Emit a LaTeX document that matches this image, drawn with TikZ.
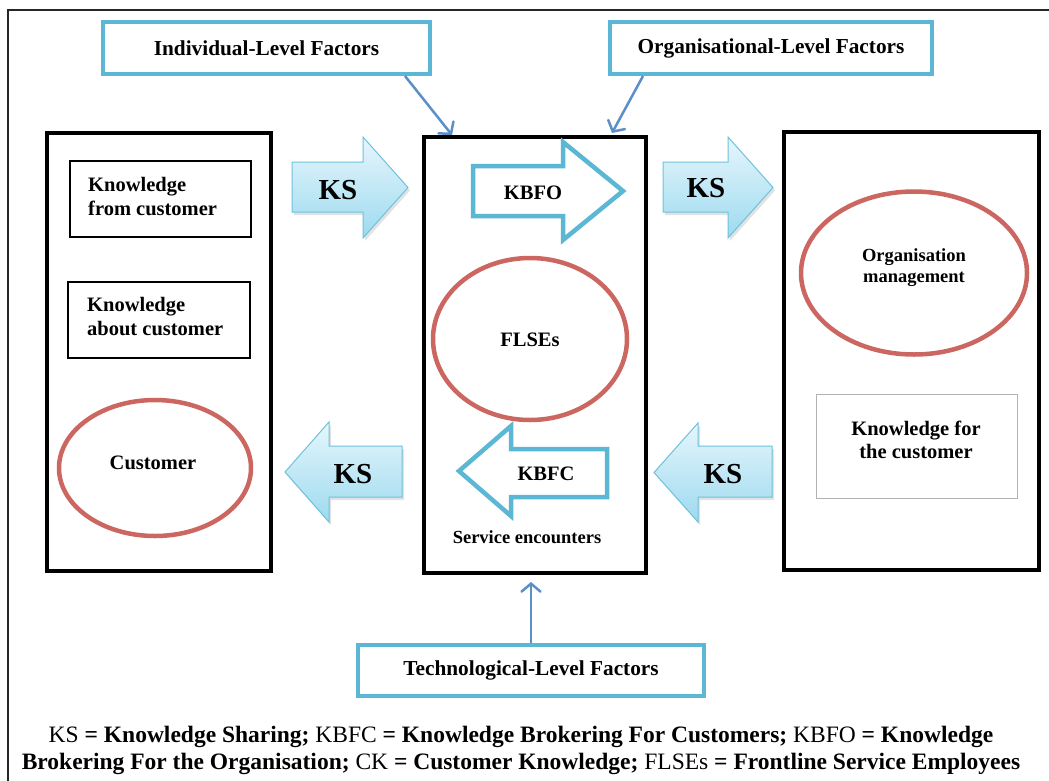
\documentclass[tikz,border=0pt]{standalone}
\usepackage{fontspec}
\setmainfont{Liberation Serif}
\usetikzlibrary{shapes.geometric,arrows.meta}
\definecolor{facblue}{HTML}{5BB7D3}
\definecolor{ellred}{HTML}{CC6661}
\definecolor{connblue}{HTML}{5B8FC9}
\definecolor{kstop}{HTML}{E6F6FC}
\definecolor{ksbot}{HTML}{9DDAEF}
\definecolor{ksedge}{HTML}{6EC2DC}
\begin{document}
\begin{tikzpicture}[x=1pt,y=-1pt,
  txt/.style={font=\bfseries\fontsize{20.5}{23.5}\selectfont, align=center, inner sep=0},
  midtxt/.style={font=\bfseries\fontsize{18.5}{21}\selectfont, align=center, inner sep=0},
  kstxt/.style={font=\bfseries\fontsize{29}{32}\selectfont, inner sep=0},
  factor/.style={draw=facblue, line width=4pt, fill=white, inner sep=0, font=\bfseries\fontsize{21.3}{24}\selectfont},
  bigbox/.style={draw=black, line width=4.5pt, inner sep=0},
  smallbox/.style={draw=black, line width=1.5pt, inner sep=0},
  oval/.style={ellipse, draw=ellred, line width=4.5pt, inner sep=0},
  ksarrow/.style={draw=ksedge, line width=1pt, top color=kstop, bottom color=ksbot, line join=miter},
  ksshadow/.style={fill=black!25, opacity=0.45},
  outarrow/.style={draw=facblue, line width=4.5pt, fill=white, line join=miter},
  conn/.style={draw=connblue, line width=2.5pt, -{Straight Barb[length=8pt,width=19pt,line cap=round]}},
  legend/.style={font=\fontsize{23.5}{27}\selectfont, inner sep=0}
]
\useasboundingbox (0,0) rectangle (1049,780);
\fill[white] (0,0) rectangle (1049,780);
% outer frame
\draw[line width=2pt, black!85] (8,800) -- (8,10) -- (1070,10);

% big boxes
\node[bigbox, line width=3.5pt, minimum width=224, minimum height=438] (leftbox) at (159,352) {};
\node[bigbox, minimum width=222, minimum height=436] (midbox) at (535,355) {};
\node[bigbox, minimum width=255, minimum height=438] (rightbox) at (911.5,351) {};

% left box contents
\node[smallbox, minimum width=181, minimum height=76] (kfrom) at (160.5,199) {};
\node[txt, align=left, anchor=west] (kfromtxt) at (88,196.5) {Knowledge\\from customer};
\node[smallbox, minimum width=182, minimum height=76] (kabout) at (159,320) {};
\node[txt, align=left, anchor=west] (kabouttxt) at (87,316.5) {Knowledge\\about customer};
\node[oval, minimum width=192, minimum height=136] (cust) at (155,468) {};
\node[txt] (custtxt) at (153,463) {Customer};

% middle box contents
\node[oval, minimum width=194, minimum height=162] (flse) at (530,339) {};
\node[txt] (flsetxt) at (530,340) {FLSEs};
\node[midtxt] (service) at (527,537) {Service encounters};

% right box contents
\node[oval, minimum width=226, minimum height=163] (orgm) at (914,273) {};
\node[midtxt] (orgmtxt) at (914,267.5) {Organisation\\management};
\node[draw=black!30, line width=1pt, minimum width=201, minimum height=104, inner sep=0] (kfor) at (916.5,446) {};
\node[txt] (kfortxt) at (916,440) {Knowledge for\\the customer};

% KS arrows (shadows)
\fill[ksshadow] (294,165) -- (365,165) -- (365,140) -- (410,190.5) -- (365,241) -- (365,215) -- (294,215) -- cycle;
\fill[ksshadow] (665,165) -- (730,165) -- (730,140) -- (775,190.5) -- (730,241) -- (730,215) -- (665,215) -- cycle;
\fill[ksshadow] (404,449) -- (331,449) -- (331,425) -- (287,475) -- (331,525) -- (331,500) -- (404,500) -- cycle;
\fill[ksshadow] (774,449) -- (700,449) -- (700,426) -- (656,475) -- (700,525) -- (700,500) -- (774,500) -- cycle;
% KS arrows
\path[ksarrow] (292,162) -- (363,162) -- (363,137) -- (408,187.5) -- (363,238) -- (363,212) -- (292,212) -- cycle;
\node[kstxt] (ks1) at (338,190) {KS};
\path[ksarrow] (663,162) -- (728,162) -- (728,137) -- (773,187.5) -- (728,238) -- (728,212) -- (663,212) -- cycle;
\node[kstxt] (ks2) at (706,188) {KS};
\path[ksarrow] (402,446) -- (329,446) -- (329,422) -- (285,472) -- (329,522) -- (329,497) -- (402,497) -- cycle;
\node[kstxt] (ks3) at (353,474) {KS};
\path[ksarrow] (772,446) -- (698,446) -- (698,423) -- (654,472.5) -- (698,522) -- (698,497) -- (772,497) -- cycle;
\node[kstxt] (ks4) at (723,474) {KS};

% KBFO / KBFC arrows
\path[outarrow] (473,166) -- (563,166) -- (563,142) -- (623,191) -- (563,240) -- (563,216) -- (473,216) -- cycle;
\node[txt] (kbfo) at (533,193) {KBFO};
\path[outarrow] (607,449) -- (511,449) -- (511,426) -- (459,471) -- (511,516) -- (511,497) -- (607,497) -- cycle;
\node[txt] (kbfc) at (546,474) {KBFC};

% factor boxes
\node[factor, minimum width=327, minimum height=52] (ind) at (266.5,48) {Individual-Level Factors};
\node[factor, minimum width=322, minimum height=52] (org) at (771,48) {Organisational-Level Factors};
\node[factor, minimum width=346, minimum height=51] (tech) at (531,670.5) {Technological-Level Factors};

% connectors
\coordinate (indtip) at (452,135);
\coordinate (orgtip) at (612,133);
\coordinate (techtip) at (531,582);
\draw[conn] ([xshift=138.5pt]ind.south) -- (indtip);
\draw[conn] ([xshift=-128pt]org.south) -- (orgtip);
\draw[conn] (tech.north) -- (techtip);

% legend
\node[legend] (leg1) at (521,737) {KS \textbf{= Knowledge Sharing;} KBFC \textbf{= Knowledge Brokering For Customers;} KBFO \textbf{= Knowledge}};
\node[legend] (leg2) at (521,764) {\textbf{Brokering For the Organisation;} CK \textbf{= Customer Knowledge;} FLSEs \textbf{= Frontline Service Employees}};
\end{tikzpicture}
\end{document}
